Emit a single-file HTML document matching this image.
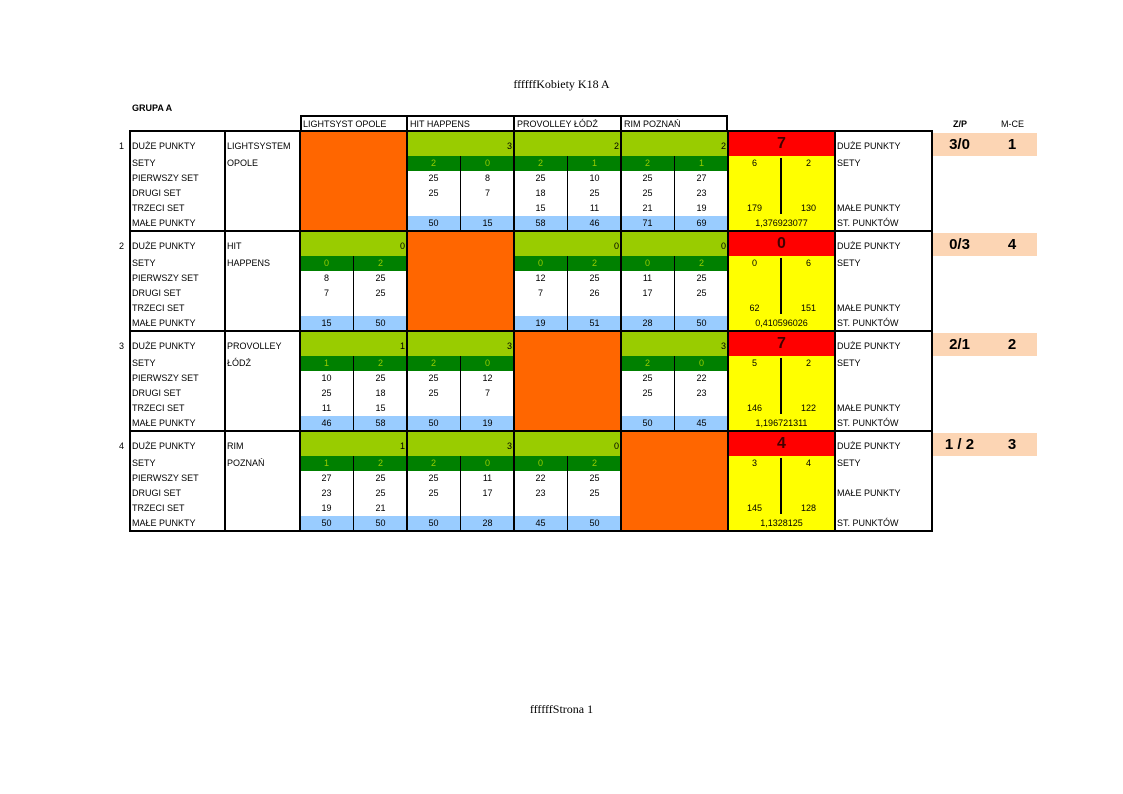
<!DOCTYPE html>
<html><head><meta charset="utf-8"><style>
body{margin:0;background:#fff;width:1123px;height:794px;position:relative;overflow:hidden;font-family:"Liberation Sans",sans-serif;}
div{position:absolute;box-sizing:border-box;}
.c{font-size:9px;height:15px;line-height:15px;text-align:center;width:53px;color:#000;}
.l{font-size:9px;height:15px;line-height:15px;left:2px;}
.blk{left:0;width:1123px;height:100px;}
.lg{background:#99cc00;height:25px;width:107px;top:0;font-size:9px;text-align:right;padding-right:2px;line-height:30px;}
.dg{background:#008000;height:15px;width:107px;top:25px;}
.lb{background:#99ccff;height:15px;width:107px;top:85px;}
.or{background:#ff6600;height:100px;width:107px;top:0;}
.vl{width:1px;background:#000;top:25px;height:75px;}
.gt{color:#99cc00;}
.pe{background:#fcd5b4;left:932px;width:105px;height:23px;top:2px;font-weight:bold;font-size:15px;line-height:23px;}
</style></head><body>
<div style="left:0;width:1123px;top:77px;text-align:center;font-family:'Liberation Serif',serif;font-size:12px;">ffffffKobiety K18 A</div>
<div style="left:0;width:1123px;top:702px;text-align:center;font-family:'Liberation Serif',serif;font-size:12px;">ffffffStrona 1</div>
<div style="left:132px;top:103px;font-size:9px;font-weight:bold;">GRUPA A</div>
<div style="left:940px;top:119px;width:40px;text-align:center;font-size:9px;font-weight:bold;">Z/P</div>
<div style="left:990px;top:119px;width:45px;text-align:center;font-size:9px;">M-CE</div>
<!-- header -->
<div style="left:300px;top:115px;width:428px;height:17px;border:2px solid #000;"></div>
<div style="left:406px;top:115px;width:2px;height:17px;background:#000"></div>
<div style="left:513px;top:115px;width:2px;height:17px;background:#000"></div>
<div style="left:620px;top:115px;width:2px;height:17px;background:#000"></div>
<div style="left:303px;top:117px;font-size:9px;line-height:14px;">LIGHTSYST OPOLE</div>
<div style="left:410px;top:117px;font-size:9px;line-height:14px;">HIT HAPPENS</div>
<div style="left:517px;top:117px;font-size:9px;line-height:14px;">PROVOLLEY ŁÓDŹ</div>
<div style="left:624px;top:117px;font-size:9px;line-height:14px;">RIM POZNAŃ</div>

<!-- BLOCK 1 -->
<div class="blk" style="top:131px;">
<div style="left:112px;top:8px;font-size:9px;line-height:15px;width:12px;text-align:right;">1</div>
<div style="left:130px;width:96px;top:0;height:100px;">
<div class="l" style="top:8px">DUŻE PUNKTY</div><div class="l" style="top:25px">SETY</div><div class="l" style="top:40px">PIERWSZY SET</div><div class="l" style="top:55px">DRUGI SET</div><div class="l" style="top:70px">TRZECI SET</div><div class="l" style="top:85px">MAŁE PUNKTY</div></div>
<div class="l" style="left:227px;top:8px">LIGHTSYSTEM</div><div class="l" style="left:227px;top:25px">OPOLE</div>
<div class="or" style="left:300px"></div>
<div class="lg" style="left:407px">3</div><div class="dg" style="left:407px"></div><div class="lb" style="left:407px"></div><div class="vl" style="left:460px"></div>
<div class="c gt" style="left:407px;top:25px">2</div><div class="c gt" style="left:461px;top:25px">0</div>
<div class="c" style="left:407px;top:40px">25</div><div class="c" style="left:461px;top:40px">8</div>
<div class="c" style="left:407px;top:55px">25</div><div class="c" style="left:461px;top:55px">7</div>
<div class="c" style="left:407px;top:85px">50</div><div class="c" style="left:461px;top:85px">15</div>
<div class="lg" style="left:514px">2</div><div class="dg" style="left:514px"></div><div class="lb" style="left:514px"></div><div class="vl" style="left:567px"></div>
<div class="c gt" style="left:514px;top:25px">2</div><div class="c gt" style="left:568px;top:25px">1</div>
<div class="c" style="left:514px;top:40px">25</div><div class="c" style="left:568px;top:40px">10</div>
<div class="c" style="left:514px;top:55px">18</div><div class="c" style="left:568px;top:55px">25</div>
<div class="c" style="left:514px;top:70px">15</div><div class="c" style="left:568px;top:70px">11</div>
<div class="c" style="left:514px;top:85px">58</div><div class="c" style="left:568px;top:85px">46</div>
<div class="lg" style="left:621px">2</div><div class="dg" style="left:621px"></div><div class="lb" style="left:621px"></div><div class="vl" style="left:674px"></div>
<div class="c gt" style="left:621px;top:25px">2</div><div class="c gt" style="left:675px;top:25px">1</div>
<div class="c" style="left:621px;top:40px">25</div><div class="c" style="left:675px;top:40px">27</div>
<div class="c" style="left:621px;top:55px">25</div><div class="c" style="left:675px;top:55px">23</div>
<div class="c" style="left:621px;top:70px">21</div><div class="c" style="left:675px;top:70px">19</div>
<div class="c" style="left:621px;top:85px">71</div><div class="c" style="left:675px;top:85px">69</div>
<div style="left:728px;width:107px;top:0;height:25px;background:#ff0000;text-align:center;font-weight:bold;font-size:16px;line-height:25px;color:#400;">7</div>
<div style="left:728px;width:107px;top:25px;height:75px;background:#ffff00;"></div>
<div style="left:780px;width:2px;top:27px;height:56px;background:#000;"></div>
<div class="c" style="left:728px;top:25px">6</div><div class="c" style="left:782px;top:25px">2</div>
<div class="c" style="left:728px;top:70px">179</div><div class="c" style="left:782px;top:70px">130</div>
<div class="c" style="left:728px;top:85px;width:107px">1,376923077</div>
<div class="l" style="left:837px;top:8px">DUŻE PUNKTY</div><div class="l" style="left:837px;top:25px">SETY</div><div class="l" style="left:837px;top:70px">MAŁE PUNKTY</div><div class="l" style="left:837px;top:85px">ST. PUNKTÓW</div>
<div class="pe"><span style="position:absolute;left:0;width:55px;text-align:center">3/0</span><span style="position:absolute;left:55px;width:50px;text-align:center">1</span></div>
</div>

<!-- BLOCK 2 -->
<div class="blk" style="top:231px;">
<div style="left:112px;top:8px;font-size:9px;line-height:15px;width:12px;text-align:right;">2</div>
<div class="l" style="left:132px;top:8px">DUŻE PUNKTY</div><div class="l" style="left:132px;top:25px">SETY</div><div class="l" style="left:132px;top:40px">PIERWSZY SET</div><div class="l" style="left:132px;top:55px">DRUGI SET</div><div class="l" style="left:132px;top:70px">TRZECI SET</div><div class="l" style="left:132px;top:85px">MAŁE PUNKTY</div>
<div class="l" style="left:227px;top:8px">HIT</div><div class="l" style="left:227px;top:25px">HAPPENS</div>
<div class="lg" style="left:300px">0</div><div class="dg" style="left:300px"></div><div class="lb" style="left:300px"></div><div class="vl" style="left:353px"></div>
<div class="c gt" style="left:300px;top:25px">0</div><div class="c gt" style="left:354px;top:25px">2</div>
<div class="c" style="left:300px;top:40px">8</div><div class="c" style="left:354px;top:40px">25</div>
<div class="c" style="left:300px;top:55px">7</div><div class="c" style="left:354px;top:55px">25</div>
<div class="c" style="left:300px;top:85px">15</div><div class="c" style="left:354px;top:85px">50</div>
<div class="or" style="left:407px"></div>
<div class="lg" style="left:514px">0</div><div class="dg" style="left:514px"></div><div class="lb" style="left:514px"></div><div class="vl" style="left:567px"></div>
<div class="c gt" style="left:514px;top:25px">0</div><div class="c gt" style="left:568px;top:25px">2</div>
<div class="c" style="left:514px;top:40px">12</div><div class="c" style="left:568px;top:40px">25</div>
<div class="c" style="left:514px;top:55px">7</div><div class="c" style="left:568px;top:55px">26</div>
<div class="c" style="left:514px;top:85px">19</div><div class="c" style="left:568px;top:85px">51</div>
<div class="lg" style="left:621px">0</div><div class="dg" style="left:621px"></div><div class="lb" style="left:621px"></div><div class="vl" style="left:674px"></div>
<div class="c gt" style="left:621px;top:25px">0</div><div class="c gt" style="left:675px;top:25px">2</div>
<div class="c" style="left:621px;top:40px">11</div><div class="c" style="left:675px;top:40px">25</div>
<div class="c" style="left:621px;top:55px">17</div><div class="c" style="left:675px;top:55px">25</div>
<div class="c" style="left:621px;top:85px">28</div><div class="c" style="left:675px;top:85px">50</div>
<div style="left:728px;width:107px;top:0;height:25px;background:#ff0000;text-align:center;font-weight:bold;font-size:16px;line-height:25px;color:#400;">0</div>
<div style="left:728px;width:107px;top:25px;height:75px;background:#ffff00;"></div>
<div style="left:780px;width:2px;top:27px;height:56px;background:#000;"></div>
<div class="c" style="left:728px;top:25px">0</div><div class="c" style="left:782px;top:25px">6</div>
<div class="c" style="left:728px;top:70px">62</div><div class="c" style="left:782px;top:70px">151</div>
<div class="c" style="left:728px;top:85px;width:107px">0,410596026</div>
<div class="l" style="left:837px;top:8px">DUŻE PUNKTY</div><div class="l" style="left:837px;top:25px">SETY</div><div class="l" style="left:837px;top:70px">MAŁE PUNKTY</div><div class="l" style="left:837px;top:85px">ST. PUNKTÓW</div>
<div class="pe"><span style="position:absolute;left:0;width:55px;text-align:center">0/3</span><span style="position:absolute;left:55px;width:50px;text-align:center">4</span></div>
</div>

<!-- BLOCK 3 -->
<div class="blk" style="top:331px;">
<div style="left:112px;top:8px;font-size:9px;line-height:15px;width:12px;text-align:right;">3</div>
<div class="l" style="left:132px;top:8px">DUŻE PUNKTY</div><div class="l" style="left:132px;top:25px">SETY</div><div class="l" style="left:132px;top:40px">PIERWSZY SET</div><div class="l" style="left:132px;top:55px">DRUGI SET</div><div class="l" style="left:132px;top:70px">TRZECI SET</div><div class="l" style="left:132px;top:85px">MAŁE PUNKTY</div>
<div class="l" style="left:227px;top:8px">PROVOLLEY</div><div class="l" style="left:227px;top:25px">ŁÓDŹ</div>
<div class="lg" style="left:300px">1</div><div class="dg" style="left:300px"></div><div class="lb" style="left:300px"></div><div class="vl" style="left:353px"></div>
<div class="c gt" style="left:300px;top:25px">1</div><div class="c gt" style="left:354px;top:25px">2</div>
<div class="c" style="left:300px;top:40px">10</div><div class="c" style="left:354px;top:40px">25</div>
<div class="c" style="left:300px;top:55px">25</div><div class="c" style="left:354px;top:55px">18</div>
<div class="c" style="left:300px;top:70px">11</div><div class="c" style="left:354px;top:70px">15</div>
<div class="c" style="left:300px;top:85px">46</div><div class="c" style="left:354px;top:85px">58</div>
<div class="lg" style="left:407px">3</div><div class="dg" style="left:407px"></div><div class="lb" style="left:407px"></div><div class="vl" style="left:460px"></div>
<div class="c gt" style="left:407px;top:25px">2</div><div class="c gt" style="left:461px;top:25px">0</div>
<div class="c" style="left:407px;top:40px">25</div><div class="c" style="left:461px;top:40px">12</div>
<div class="c" style="left:407px;top:55px">25</div><div class="c" style="left:461px;top:55px">7</div>
<div class="c" style="left:407px;top:85px">50</div><div class="c" style="left:461px;top:85px">19</div>
<div class="or" style="left:514px"></div>
<div class="lg" style="left:621px">3</div><div class="dg" style="left:621px"></div><div class="lb" style="left:621px"></div><div class="vl" style="left:674px"></div>
<div class="c gt" style="left:621px;top:25px">2</div><div class="c gt" style="left:675px;top:25px">0</div>
<div class="c" style="left:621px;top:40px">25</div><div class="c" style="left:675px;top:40px">22</div>
<div class="c" style="left:621px;top:55px">25</div><div class="c" style="left:675px;top:55px">23</div>
<div class="c" style="left:621px;top:85px">50</div><div class="c" style="left:675px;top:85px">45</div>
<div style="left:728px;width:107px;top:0;height:25px;background:#ff0000;text-align:center;font-weight:bold;font-size:16px;line-height:25px;color:#400;">7</div>
<div style="left:728px;width:107px;top:25px;height:75px;background:#ffff00;"></div>
<div style="left:780px;width:2px;top:27px;height:56px;background:#000;"></div>
<div class="c" style="left:728px;top:25px">5</div><div class="c" style="left:782px;top:25px">2</div>
<div class="c" style="left:728px;top:70px">146</div><div class="c" style="left:782px;top:70px">122</div>
<div class="c" style="left:728px;top:85px;width:107px">1,196721311</div>
<div class="l" style="left:837px;top:8px">DUŻE PUNKTY</div><div class="l" style="left:837px;top:25px">SETY</div><div class="l" style="left:837px;top:70px">MAŁE PUNKTY</div><div class="l" style="left:837px;top:85px">ST. PUNKTÓW</div>
<div class="pe"><span style="position:absolute;left:0;width:55px;text-align:center">2/1</span><span style="position:absolute;left:55px;width:50px;text-align:center">2</span></div>
</div>

<!-- BLOCK 4 -->
<div class="blk" style="top:431px;">
<div style="left:112px;top:8px;font-size:9px;line-height:15px;width:12px;text-align:right;">4</div>
<div class="l" style="left:132px;top:8px">DUŻE PUNKTY</div><div class="l" style="left:132px;top:25px">SETY</div><div class="l" style="left:132px;top:40px">PIERWSZY SET</div><div class="l" style="left:132px;top:55px">DRUGI SET</div><div class="l" style="left:132px;top:70px">TRZECI SET</div><div class="l" style="left:132px;top:85px">MAŁE PUNKTY</div>
<div class="l" style="left:227px;top:8px">RIM</div><div class="l" style="left:227px;top:25px">POZNAŃ</div>
<div class="lg" style="left:300px">1</div><div class="dg" style="left:300px"></div><div class="lb" style="left:300px"></div><div class="vl" style="left:353px"></div>
<div class="c gt" style="left:300px;top:25px">1</div><div class="c gt" style="left:354px;top:25px">2</div>
<div class="c" style="left:300px;top:40px">27</div><div class="c" style="left:354px;top:40px">25</div>
<div class="c" style="left:300px;top:55px">23</div><div class="c" style="left:354px;top:55px">25</div>
<div class="c" style="left:300px;top:70px">19</div><div class="c" style="left:354px;top:70px">21</div>
<div class="c" style="left:300px;top:85px">50</div><div class="c" style="left:354px;top:85px">50</div>
<div class="lg" style="left:407px">3</div><div class="dg" style="left:407px"></div><div class="lb" style="left:407px"></div><div class="vl" style="left:460px"></div>
<div class="c gt" style="left:407px;top:25px">2</div><div class="c gt" style="left:461px;top:25px">0</div>
<div class="c" style="left:407px;top:40px">25</div><div class="c" style="left:461px;top:40px">11</div>
<div class="c" style="left:407px;top:55px">25</div><div class="c" style="left:461px;top:55px">17</div>
<div class="c" style="left:407px;top:85px">50</div><div class="c" style="left:461px;top:85px">28</div>
<div class="lg" style="left:514px">0</div><div class="dg" style="left:514px"></div><div class="lb" style="left:514px"></div><div class="vl" style="left:567px"></div>
<div class="c gt" style="left:514px;top:25px">0</div><div class="c gt" style="left:568px;top:25px">2</div>
<div class="c" style="left:514px;top:40px">22</div><div class="c" style="left:568px;top:40px">25</div>
<div class="c" style="left:514px;top:55px">23</div><div class="c" style="left:568px;top:55px">25</div>
<div class="c" style="left:514px;top:85px">45</div><div class="c" style="left:568px;top:85px">50</div>
<div class="or" style="left:621px"></div>
<div style="left:728px;width:107px;top:0;height:25px;background:#ff0000;text-align:center;font-weight:bold;font-size:16px;line-height:25px;color:#400;">4</div>
<div style="left:728px;width:107px;top:25px;height:75px;background:#ffff00;"></div>
<div style="left:780px;width:2px;top:27px;height:56px;background:#000;"></div>
<div class="c" style="left:728px;top:25px">3</div><div class="c" style="left:782px;top:25px">4</div>
<div class="c" style="left:728px;top:70px">145</div><div class="c" style="left:782px;top:70px">128</div>
<div class="c" style="left:728px;top:85px;width:107px">1,1328125</div>
<div class="l" style="left:837px;top:8px">DUŻE PUNKTY</div><div class="l" style="left:837px;top:25px">SETY</div><div class="l" style="left:837px;top:55px">MAŁE PUNKTY</div><div class="l" style="left:837px;top:85px">ST. PUNKTÓW</div>
<div class="pe"><span style="position:absolute;left:0;width:55px;text-align:center">1 / 2</span><span style="position:absolute;left:55px;width:50px;text-align:center">3</span></div>
</div>

<!-- grid lines -->
<div style="left:129px;top:130px;width:804px;height:402px;border:2px solid #000;"></div>
<div style="left:129px;top:230px;width:804px;height:2px;background:#000"></div>
<div style="left:129px;top:330px;width:804px;height:2px;background:#000"></div>
<div style="left:129px;top:430px;width:804px;height:2px;background:#000"></div>
<div style="left:224px;top:130px;width:2px;height:402px;background:#000"></div>
<div style="left:299px;top:130px;width:2px;height:402px;background:#000"></div>
<div style="left:406px;top:130px;width:2px;height:402px;background:#000"></div>
<div style="left:513px;top:130px;width:2px;height:402px;background:#000"></div>
<div style="left:620px;top:130px;width:2px;height:402px;background:#000"></div>
<div style="left:727px;top:130px;width:2px;height:402px;background:#000"></div>
<div style="left:834px;top:130px;width:2px;height:402px;background:#000"></div>
</body></html>
